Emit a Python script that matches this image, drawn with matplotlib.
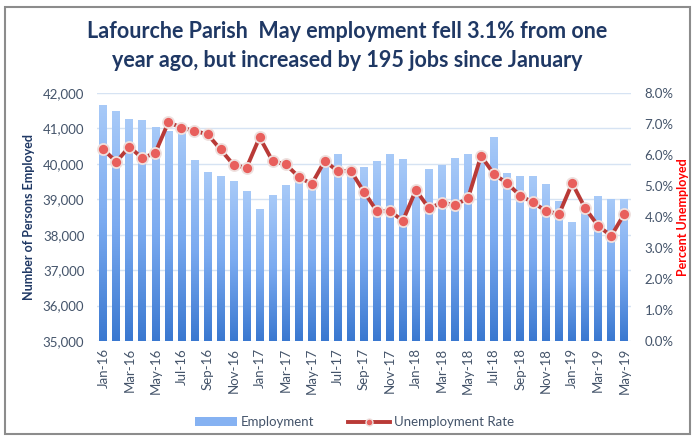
import numpy as np
import matplotlib.pyplot as plt
from matplotlib.patches import Rectangle, Patch
from matplotlib.lines import Line2D
from matplotlib.colors import LinearSegmentedColormap
from matplotlib.ticker import FuncFormatter

plt.rcParams['font.family'] = ['Lato', 'DejaVu Sans']

months = ['Jan-16', 'Feb-16', 'Mar-16', 'Apr-16', 'May-16', 'Jun-16', 'Jul-16', 'Aug-16',
          'Sep-16', 'Oct-16', 'Nov-16', 'Dec-16', 'Jan-17', 'Feb-17', 'Mar-17', 'Apr-17',
          'May-17', 'Jun-17', 'Jul-17', 'Aug-17', 'Sep-17', 'Oct-17', 'Nov-17', 'Dec-17',
          'Jan-18', 'Feb-18', 'Mar-18', 'Apr-18', 'May-18', 'Jun-18', 'Jul-18', 'Aug-18',
          'Sep-18', 'Oct-18', 'Nov-18', 'Dec-18', 'Jan-19', 'Feb-19', 'Mar-19', 'Apr-19',
          'May-19']

employment = [41660, 41490, 41265, 41225, 41050, 40920, 40990, 40110,
              39760, 39670, 39515, 39240, 38720, 39120, 39395, 39580,
              39500, 39950, 40290, 39850, 39910, 40080, 40285, 40140,
              39300, 39865, 39960, 40175, 40265, 40200, 40765, 39750,
              39645, 39645, 39425, 38950, 38365, 38800, 39100, 39015,
              39010]

unemployment_rate = [6.18, 5.78, 6.27, 5.89, 6.08, 7.06, 6.88, 6.78,
                     6.67, 6.18, 5.68, 5.59, 6.57, 5.80, 5.70, 5.30,
                     5.06, 5.81, 5.48, 5.49, 4.82, 4.19, 4.19, 3.88,
                     4.87, 4.28, 4.46, 4.39, 4.60, 5.97, 5.38, 5.09,
                     4.69, 4.47, 4.19, 4.10, 5.09, 4.28, 3.71, 3.39,
                     4.10]

emp_ticks = [35000, 36000, 37000, 38000, 39000, 40000, 41000, 42000]
rate_ticks = [0, 1, 2, 3, 4, 5, 6, 7, 8]

title = ('Lafourche Parish  May employment fell 3.1% from one\n'
         'year ago, but increased by 195 jobs since January')

NAVY = '#1f3864'
TICK = '#44546a'
W, H = 695, 440

fig = plt.figure(figsize=(W / 100, H / 100), dpi=100)
ax = fig.add_axes([96.8 / W, 1 - 341 / H, 534 / W, 248 / H])

x = np.arange(len(months))
base = emp_ticks[0]
bars = ax.bar(x, np.array(employment) - base, bottom=base, width=0.6,
              color='none', zorder=2)

# vertical gradient inside every bar, like the Excel fill
cmap = LinearSegmentedColormap.from_list('bluefade', ['#3a78d0', '#7aaaf0', '#a8caf8'])
grad = np.linspace(0, 1, 256).reshape(-1, 1)
for b in bars:
    bx, by = b.get_x(), b.get_y()
    im = ax.imshow(grad, origin='lower', aspect='auto', cmap=cmap, zorder=2,
                   extent=[bx, bx + b.get_width(), by, by + b.get_height()])
    im.set_clip_path(b)

ax.set_xlim(-0.5, len(months) - 0.5)
ax.set_ylim(emp_ticks[0], emp_ticks[-1])
ax.set_yticks(emp_ticks)
ax.yaxis.set_major_formatter(FuncFormatter(lambda v, p: f'{v:,.0f}'))
ax.yaxis.grid(True, color='#d6e3f3', lw=1)
ax.set_axisbelow(True)
ax.set_xticks(x[::2])
ax.set_xticklabels(months[::2], rotation=90)
ax.tick_params(axis='x', length=0, pad=5, labelsize=9.5, labelcolor=TICK)
ax.tick_params(axis='y', length=0, pad=9, labelsize=9.5, labelcolor=TICK)
for s in ax.spines.values():
    s.set_visible(False)
ax.set_ylabel('Number of Persons Employed', fontsize=9, fontweight='bold', color=NAVY)
ax.yaxis.set_label_coords(-0.115, 0.5)

ax2 = ax.twinx()
ax2.plot(x, unemployment_rate, color='#b93a37', lw=2.8, marker='o', ms=8,
         mfc='#e85f5c', mec='#eee0de', mew=1.3, zorder=3)
ax2.set_ylim(rate_ticks[0], rate_ticks[-1])
ax2.set_yticks(rate_ticks)
ax2.yaxis.set_major_formatter(FuncFormatter(lambda v, p: f'{v:.1f}%'))
ax2.tick_params(axis='y', length=0, pad=10, labelsize=9.5, labelcolor=TICK)
for s in ax2.spines.values():
    s.set_visible(False)
ax2.set_ylabel('Percent Unemployed', fontsize=9, fontweight='bold', color='#ff0000')
ax2.yaxis.set_label_coords(1.087, 0.5)

fig.text(0.5, 1 - 46 / H, title, ha='center', va='center', fontsize=15.5,
         fontweight='bold', color=NAVY, linespacing=1.5)

handles = [Patch(facecolor='#86b2f2', edgecolor='none'),
           Line2D([], [], color='#b93a37', lw=2.8, marker='o', ms=5,
                  mfc='#e85f5c', mec='#eee0de')]
leg = fig.legend(handles, ['Employment', 'Unemployment Rate'], loc='center',
                 bbox_to_anchor=(0.51, 1 - 422 / H), ncol=2, frameon=False,
                 fontsize=9.5, handlelength=3.2, handleheight=0.6, columnspacing=2.5,
                 handletextpad=0.3)
for t in leg.get_texts():
    t.set_color(TICK)

fig.patches.append(Rectangle((5 / W, 1 - 434 / H), 685 / W, 427 / H,
                             transform=fig.transFigure, fill=False,
                             edgecolor='#8c8c8c', lw=1.5))

fig.savefig('out.png', dpi=100)
